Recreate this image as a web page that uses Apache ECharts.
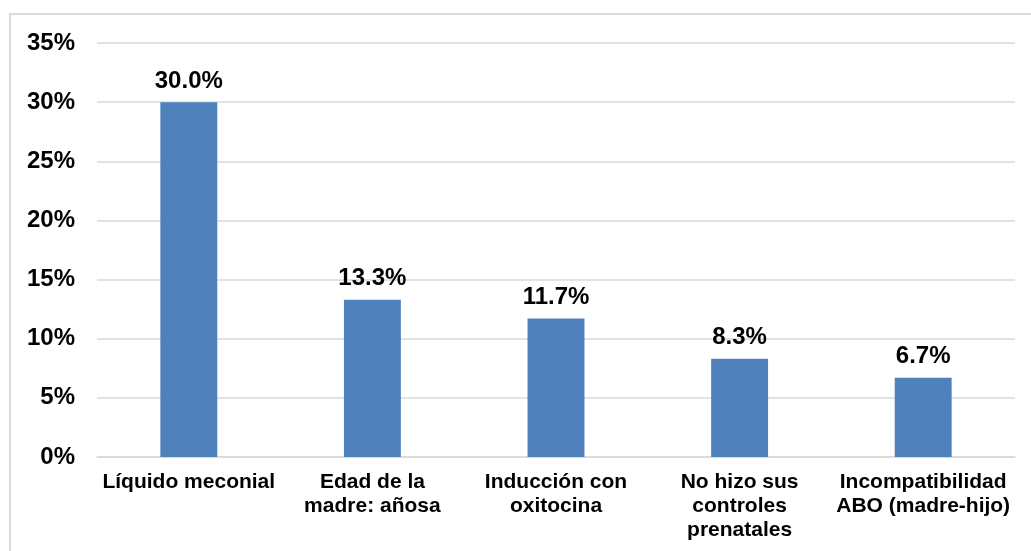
<!DOCTYPE html>
<html>
<head>
<meta charset="utf-8">
<script src="https://cdn.jsdelivr.net/npm/echarts@6/dist/echarts.min.js"></script>
<style>
  html, body { margin: 0; padding: 0; background: #fff; }
  #chart { width: 1031px; height: 551px; }
</style>
</head>
<body>
<div id="chart"></div>
<script>
const categories = [
  'Líquido meconial',
  'Edad de la\nmadre: añosa',
  'Inducción con\noxitocina',
  'No hizo sus\ncontroles\nprenatales',
  'Incompatibilidad\nABO (madre-hijo)'
]
const values = [30.0, 13.3, 11.7, 8.3, 6.7]

const font = '"Liberation Sans", Arial, sans-serif'
const chart = echarts.init(document.getElementById('chart'))

chart.setOption({
  animation: false,
  graphic: [
    {
      type: 'rect',
      shape: { x: 10, y: 14, width: 1040, height: 560 },
      style: { fill: 'none', stroke: '#d9d9d9', lineWidth: 2 },
      silent: true
    }
  ],
  grid: { left: 97, right: 16, top: 43, bottom: 94 },
  xAxis: {
    type: 'category',
    data: categories,
    axisLine: { lineStyle: { color: '#d9d9d9', width: 1.5 } },
    axisTick: { show: false },
    axisLabel: {
      color: '#000',
      fontFamily: font,
      fontWeight: 'bold',
      fontSize: 21,
      lineHeight: 24,
      margin: 13,
      interval: 0
    }
  },
  yAxis: {
    type: 'value',
    min: 0,
    max: 35,
    interval: 5,
    axisLine: { show: false },
    axisTick: { show: false },
    splitLine: { lineStyle: { color: '#d9d9d9', width: 1.5 } },
    axisLabel: {
      color: '#000',
      fontFamily: font,
      fontWeight: 'bold',
      fontSize: 24,
      margin: 22,
      formatter: '{value}%'
    }
  },
  series: [
    {
      type: 'bar',
      data: values,
      barWidth: '31%',
      itemStyle: { color: '#4f81bd' },
      label: {
        show: true,
        position: 'top',
        distance: 9,
        color: '#000',
        fontFamily: font,
        fontWeight: 'bold',
        fontSize: 24,
        formatter: p => p.value.toFixed(1) + '%'
      }
    }
  ]
})
</script>
</body>
</html>
